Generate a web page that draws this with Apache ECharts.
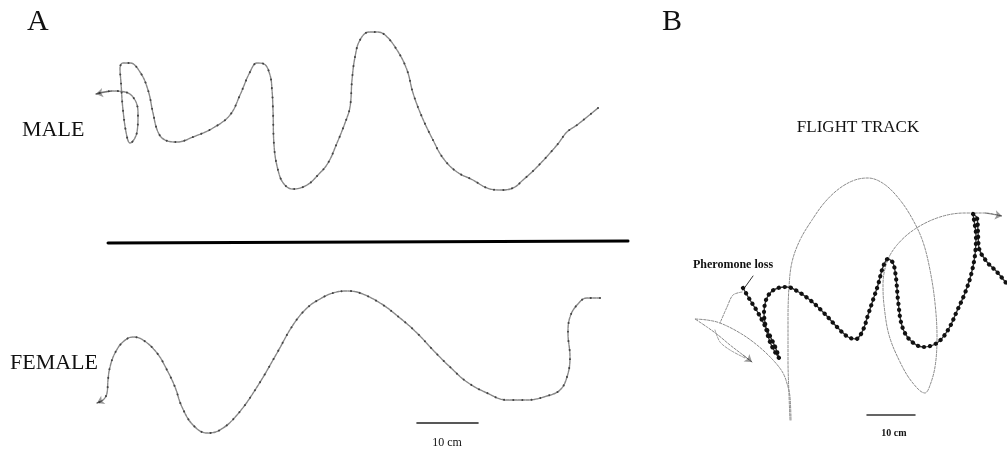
<!DOCTYPE html>
<html>
<head>
<meta charset="utf-8">
<script src="https://cdn.jsdelivr.net/npm/echarts@6/dist/echarts.min.js"></script>
<style>
html,body{margin:0;padding:0;background:#fff}
#chart{width:1007px;height:455px}
</style>
</head>
<body>
<div id="chart"></div>
<script>
// track positions (drawing units, y grows downward)
const maleTrack = [[598,108],[577,125],[567,132],[557,145],[537,167],[523,180],[513,188],[500,190],[487,188],[473,180],[457,172],[443,158],[433,140],[422,117],[413,93],[407,70],[397,50],[385,35],[377,32],[369,32],[360,40],[355,57],[352,80],[350,107],[345,123],[337,143],[328,163],[318,175],[307,185],[293,189],[284,184],[278,170],[274,145],[273,110],[272,90],[270,75],[264,64],[257,63],[250,72],[240,95],[230,115],[213,128],[193,137],[177,142],[165,140],[158,132],[153,113],[148,90],[140,72],[130,63],[123,63],[120,68],[121,83],[123,110],[127,137],[130,143],[137,132],[138,115],[135,100],[125,92],[112,91],[96,94]];
const femaleTrack = [[600,298],[587,298],[577,305],[570,317],[568,333],[570,357],[567,377],[560,390],[547,396],[527,400],[507,400],[487,393],[467,382],[450,367],[433,350],[417,333],[400,318],[380,303],[360,293],[347,291],[333,293],[320,299],[307,308],[293,325],[277,353],[257,387],[237,415],[220,430],[207,433],[193,425],[182,407],[175,387],[167,370],[157,353],[143,340],[133,337],[123,342],[115,353],[110,367],[108,380],[107,393],[103,400],[97,403]];
const divider = [[108,243],[628,241]];
const scaleBarA = [[417,423],[478,423]];

const flightLoop = [[790,420],[789,395],[788,360],[788,320],[789,287],[792,262],[800,240],[812,220],[825,202],[840,188],[855,180],[868,178],[884,184],[900,200],[913,220],[923,242],[930,270],[935,303],[937,337],[935,367],[929,388],[925,393],[912,382],[900,362],[889,335],[884,305],[883,285],[887,262],[897,245],[915,229],[940,217],[965,213],[985,213],[1002,216]];
const castTrack = [[791,420],[790,397],[788,387],[783,373],[773,360],[757,345],[740,333],[720,323],[707,320],[695,319],[707,327],[718,335],[730,345],[743,355],[752,362]];
const castLoop = [[715,330],[720,342],[730,350],[745,358]];
const castBranch = [[742,292],[733,295],[727,307],[720,323]];
const pheromoneTrack = [[743,288],[750,300],[757,311],[763,322],[770,336],[776,349],[779,358],[775,352],[770,342],[766,328],[764,313],[766,300],[771,292],[778,288],[787,287],[797,291],[810,300],[823,312],[837,327],[848,337],[856,339],[863,330],[868,315],[873,300],[878,285],[883,267],[888,259],[893,263],[896,278],[898,300],[902,326],[910,340],[923,347],[937,343],[948,330],[957,311],[965,293],[971,275],[975,255],[976,235],[974,220],[973,214],[977,218],[978,232],[979,248],[987,262],[997,272],[1007,284]];
const pointer = [[753,276],[743,290]];
const scaleBarB = [[867,415],[915,415]];

function path(data, color, width, dash, smooth, z) {
    return {
        type: 'line', data: data, smooth: smooth, symbol: 'none', silent: true, z: z || 2,
        lineStyle: {color: color, width: width, type: dash, cap: 'round'}
    };
}

function label(text, x, y, font, align) {
    return {
        type: 'text', x: x, y: y, silent: true,
        style: {text: text, font: font, fill: '#111', textAlign: align || 'left', textVerticalAlign: 'middle'}
    };
}

const serif = '"Liberation Serif", "DejaVu Serif", serif';

const option = {
    animation: false,
    grid: {left: 0, right: 0, top: 0, bottom: 0},
    xAxis: {type: 'value', min: 0, max: 1007, show: false},
    yAxis: {type: 'value', min: 0, max: 455, inverse: true, show: false},
    series: [
        path(maleTrack, '#888', 1.4, [3, 1], 0.4),
        path(maleTrack, '#444', 2, [0.1, 9], 0.4, 3),
        path(femaleTrack, '#888', 1.4, [3, 1], 0.4),
        path(femaleTrack, '#444', 2, [0.1, 9], 0.4, 3),
        path(divider, '#000', 3, 'solid', false),
        path(scaleBarA, '#222', 1.6, 'solid', false),
        path(flightLoop, '#888', 1, [2.5, 1.5], 0.35),
        path(castTrack, '#888', 1, [2.5, 1.5], 0.35),
        path(castLoop, '#999', 1, [2.5, 1.5], 0.3),
        path(castBranch, '#888', 1, [2.5, 1.5], 0.3),
        path(pheromoneTrack, '#333', 1.4, 'solid', 0.35, 4),
        path(pheromoneTrack, '#111', 4.2, [0.1, 6], 0.35, 5),
        path(pointer, '#333', 1, 'solid', false),
        path(scaleBarB, '#333', 1.5, 'solid', false),
        {
            type: 'lines', coordinateSystem: 'cartesian2d', silent: true, z: 6,
            symbol: ['none', 'arrow'], symbolSize: 7,
            lineStyle: {color: '#333', width: 1},
            data: [maleTrack, femaleTrack, flightLoop, castTrack].map(t => ({coords: t.slice(-2)}))
        }
    ],
    graphic: [
        label('A', 27, 22, '30px ' + serif),
        label('B', 662, 22, '30px ' + serif),
        label('MALE', 22, 130, '22px ' + serif),
        label('FEMALE', 10, 363, '22px ' + serif),
        label('10 cm', 447, 443, '12px ' + serif, 'center'),
        label('FLIGHT TRACK', 858, 128, '17px ' + serif, 'center'),
        label('Pheromone loss', 733, 265, 'bold 12px ' + serif, 'center'),
        label('10 cm', 894, 433, 'bold 10px ' + serif, 'center')
    ]
};

const chart = echarts.init(document.getElementById('chart'));
chart.setOption(option);
</script>
</body>
</html>
